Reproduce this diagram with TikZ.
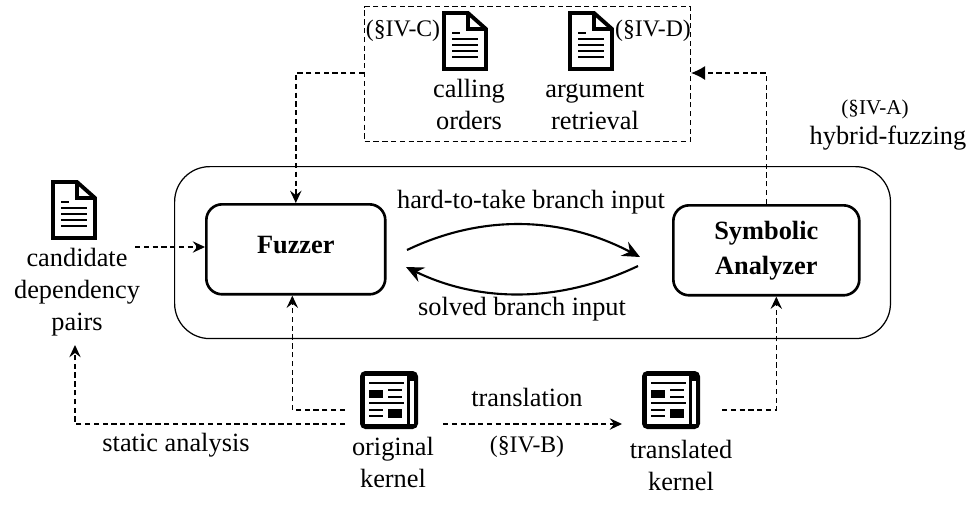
\documentclass[tikz,border=0pt]{standalone}
\usepackage{fontspec}
\setmainfont{Liberation Serif}
\usetikzlibrary{arrows.meta}
\tikzset{
  dashline/.style={densely dashed,line width=.8pt,-{Stealth[length=7pt,width=6.5pt,inset=2.5pt]}},
  dashplain/.style={densely dashed,line width=.8pt},
  curveline/.style={line width=1.2pt,-{Stealth[length=10pt,width=9pt,inset=3.5pt]}},
  flowbox/.style={draw,line width=1.5pt,rounded corners=9pt,anchor=north west,inner sep=0pt,align=center,font=\fontsize{15}{20}\selectfont\bfseries},
  lbl/.style={align=center,inner sep=0pt,font=\fontsize{15}{18.2}\selectfont},
  seclbl/.style={lbl,font=\fontsize{13.5}{16}\selectfont},
  pics/docicon/.style={code={
    \draw[line width=2.2pt,line join=miter,fill=white](-21,-28)--(3,-28)--(21,-12)--(21,28)--(-21,28)--cycle;
    \draw[line width=1.8pt](3,-28)--(3,-12)--(21,-12);
    \draw[line width=1.2pt](-13,-8)--(-5,-8);
    \foreach \y in {-2,4,10,16}
      \draw[line width=1.5pt](-13,\y)--(13,\y);
  }},
  pics/newsicon/.style={code={
    \fill[rounded corners=3pt](-29,-29)rectangle(29,29);
    \fill[white](-24,-24)rectangle(18,24);
    \fill[white](21,-19)rectangle(25,24);
    \draw[line width=1.5pt](-20,-17)--(15,-17);
    \fill(-20,-10)rectangle(-6,-2);
    \draw[line width=1.5pt](-1,-10)--(13,-10);
    \draw[line width=1.5pt](-1,-3)--(13,-3);
    \draw[line width=1.5pt](-20,3)--(15,3);
    \draw[line width=1.5pt](-20,10)--(-6,10);
    \draw[line width=1.5pt](-20,16)--(-6,16);
    \fill(-1,9)rectangle(13,18);
  }}
}
\begin{document}
\begin{tikzpicture}[x=0.02cm,y=-0.02cm]
\useasboundingbox(0,0)rectangle(980,512);
\node(outerbox)[draw,line width=.7pt,rounded corners=20pt,anchor=north west,inner sep=0pt,minimum width=14.32cm,minimum height=3.44cm]at(174,166){};
\node(fuzzer)[flowbox,text depth=5pt,minimum width=3.58cm,minimum height=1.8cm]at(205,203){Fuzzer};
\node(analyzer)[flowbox,minimum width=3.72cm,minimum height=1.8cm]at(672,204){Symbolic\\Analyzer};
\node(resultbox)[draw,dashplain,anchor=north west,inner sep=0pt,minimum width=6.52cm,minimum height=2.7cm]at(364,6){};
\pic at(465,41){docicon};
\pic at(591,41){docicon};
\pic at(74,210){docicon};
\pic at(389,400){newsicon};
\pic at(671,400){newsicon};
\node(calling)[lbl]at(469,104){calling\\orders};
\node(argument)[lbl]at(595,106){argument\\retrieval};
\node(secC)[seclbl]at(403,31){(§IV-C)};
\node(secD)[seclbl]at(653,31){(§IV-D)};
\node(secA)[seclbl,font=\fontsize{12}{16}\selectfont]at(875,109){(§IV-A)};
\node(hybrid)[lbl]at(888,138){hybrid-fuzzing};
\node(candidate)[lbl]at(77,292){candidate\\dependency\\pairs};
\node(hardlbl)[lbl]at(531,202){hard-to-take branch input};
\node(solvedlbl)[lbl]at(522,309){solved branch input};
\node(staticlbl)[lbl]at(176,445){static analysis};
\node(translbl)[lbl]at(527,397){translation};
\node(secB)[seclbl]at(527,447){(§IV-B)};
\node(original)[lbl]at(393,462){original\\kernel};
\node(translated)[lbl]at(681,465){translated\\kernel};
\coordinate(candout)at(135,247);
\coordinate(candin)at(75,345);
\coordinate(origup)at(345,410);
\coordinate(origlow)at(345,424);
\coordinate(origright)at(443,424);
\coordinate(transin)at(622,424);
\coordinate(transout)at(722,410);
\coordinate(resultleft)at(364,73);
\coordinate(resultright)at(691,73);
\coordinate(fuzzhigh)at(407,250);
\coordinate(anlzhigh)at(640,257);
\coordinate(anlzlow)at(638,266);
\coordinate(fuzzlow)at(406,267);
\draw[dashline](resultleft)-|(fuzzer.north);
\draw[dashplain,-{Latex[length=8pt,width=8pt]}](analyzer.north)|-(resultright);
\draw[dashline](candout)--(candout-|fuzzer.west);
\draw[dashline](origup)-|([xshift=-.07cm]fuzzer.south);
\draw[dashline](origlow)-|(candin);
\draw[dashline](origright)--(transin);
\draw[dashline](transout)-|([xshift=.2cm]analyzer.south);
\draw[curveline](fuzzhigh).. controls (480,215) and (560,215) ..(anlzhigh);
\draw[curveline](anlzlow).. controls (560,303) and (480,303) ..(fuzzlow);
\end{tikzpicture}
\end{document}
